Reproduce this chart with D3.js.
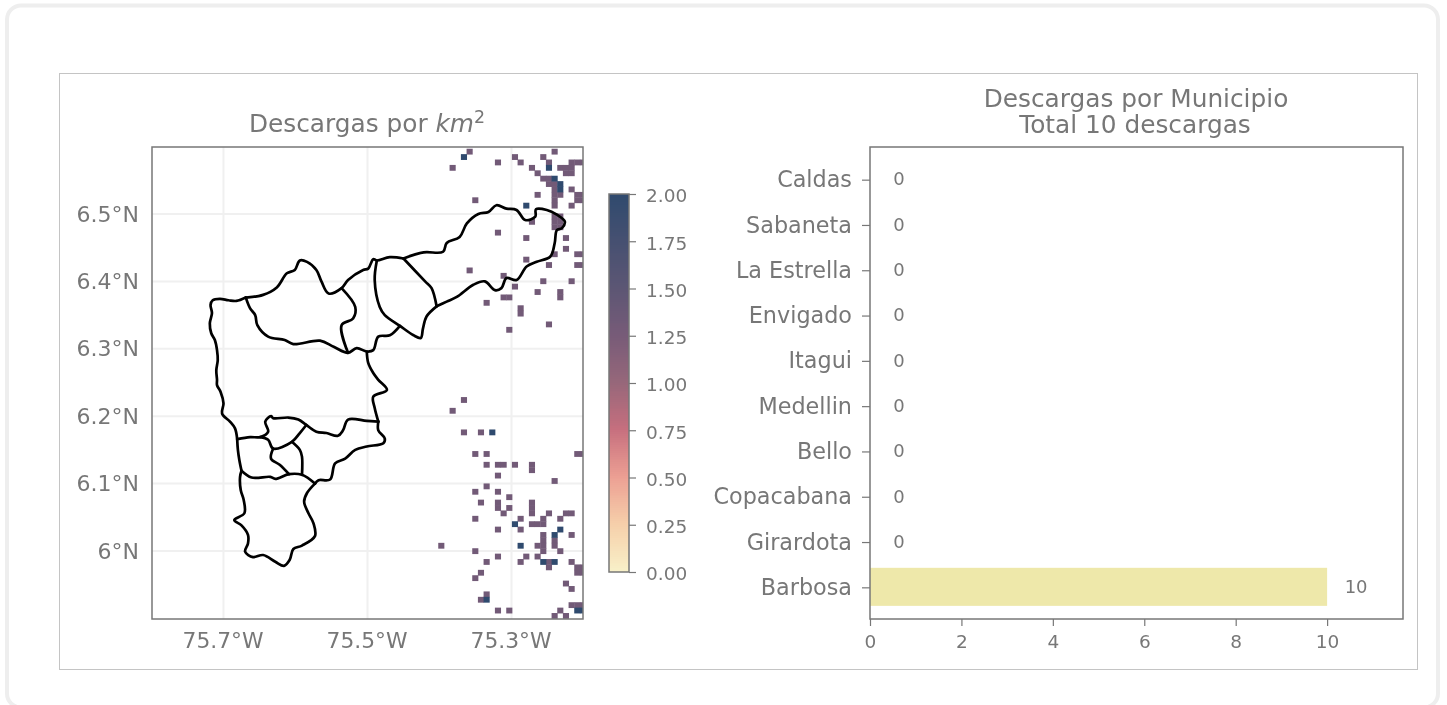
<!doctype html>
<html lang="en">
<head>
<meta charset="utf-8">
<title>Descargas</title>
<script src="https://cdn.jsdelivr.net/npm/d3@7"></script>
<style>
  html, body { margin: 0; background: #fff; }
  svg { display: block; font-family: "DejaVu Sans", sans-serif; filter: blur(0.4px); }
  .axis path, .axis line { stroke: #777; }
  .axis text { fill: #777; font-family: "DejaVu Sans", sans-serif; }
  .title { fill: #777; font-size: 24.8px; text-anchor: middle; }
</style>
</head>
<body>
<div id="chart"></div>
<script>
// municipios, top to bottom
var municipios = ['Caldas', 'Sabaneta', 'La Estrella', 'Envigado', 'Itagui', 'Medellin', 'Bello', 'Copacabana', 'Girardota', 'Barbosa'];
var descargas = [0, 0, 0, 0, 0, 0, 0, 0, 0, 10];
var barTicks = [0, 2, 4, 6, 8, 10];

var lonTicks = [-75.7, -75.5, -75.3];
var latTicks = [6, 6.1, 6.2, 6.3, 6.4, 6.5];
var colorTicks = [0, 0.25, 0.5, 0.75, 1, 1.25, 1.5, 1.75, 2];

// raster of discharges: [row, [columns]] on a grid of about 0.008 degrees
var gridLon0 = -75.3975, gridLat0 = 6.5925, gridDLon = 0.00787, gridDLat = 0.00801;
var densidadUna = 1.3, densidadDos = 2.6;
var celdasUna = [
  [0, [5, 20]], [1, [13, 18]], [2, [10, 14, 19, 23, 24, 25]], [3, [2, 16, 21, 22, 23]], [4, [17, 22, 23]],
  [5, [18, 19]], [6, [19, 20]], [7, [20, 23]], [8, [17, 20, 21, 24, 25]], [9, [6, 20, 24, 25]], [10, [20, 23]],
  [12, [20, 21]], [13, [16, 20, 21]], [14, [20, 21]], [15, [10]], [16, [15, 22]], [18, [22]], [19, [20, 24, 25]],
  [20, [15]], [21, [19, 24, 25]], [22, [5]], [23, [11]], [24, [18, 23]], [25, [13]], [26, [17, 21]],
  [27, [11, 12, 21]], [28, [8]], [29, [14]], [30, [14]], [32, [19]], [33, [12]],
  [46, [4]], [48, [2]], [52, [4, 7]], [56, [6, 8, 24, 25]], [58, [8, 10, 11, 13, 16]], [59, [16]], [60, [10]],
  [61, [20]], [62, [8]], [63, [6, 10]], [64, [12]], [65, [7, 10, 16]], [66, [10, 12, 16]], [67, [11, 16, 19, 22, 23]],
  [68, [6, 14, 18, 21]], [69, [16, 17, 18]], [70, [10, 14]], [71, [18, 23]], [72, [18, 20]], [73, [0, 17, 18, 20]],
  [74, [6, 18, 21]], [75, [10, 15, 17]], [76, [8, 14, 19, 23]], [77, [19, 24, 25]], [78, [7, 24, 25]], [79, [6]],
  [80, [22]], [81, [23]], [82, [8]], [83, [7]], [84, [23, 24, 25]], [85, [10, 12, 21]], [86, [20, 22]]
];
var celdasDos = [
  [1, [4]], [3, [19]], [5, [20]], [6, [21]], [7, [21]], [10, [15]], [52, [9]], [69, [13]], [70, [21]],
  [71, [20]], [73, [14]], [76, [18, 20]], [83, [8]], [85, [24, 25]]
];

// municipal boundaries, [lon, lat]
var limites = [
  // west side, north junction down to the south one
  [[-75.669,6.376],[-75.682,6.371],[-75.693,6.372],[-75.705,6.374],[-75.715,6.372],[-75.718,6.365],[-75.716,6.353],[-75.719,6.338],[-75.717,6.323],[-75.712,6.313],[-75.709,6.298],[-75.708,6.283],[-75.710,6.268],[-75.709,6.254],[-75.709,6.246],[-75.704,6.236],[-75.700,6.219],[-75.702,6.204],[-75.691,6.192],[-75.684,6.182],[-75.681,6.166]],
  [[-75.681,6.166],[-75.680,6.150],[-75.678,6.135],[-75.675,6.119]],
  // southern municipio
  [[-75.675,6.119],[-75.677,6.110],[-75.676,6.090],[-75.672,6.076],[-75.671,6.056],[-75.685,6.046],[-75.675,6.038],[-75.666,6.024],[-75.666,6.011],[-75.670,5.999],[-75.659,5.991],[-75.645,5.994],[-75.628,5.984],[-75.616,5.978],[-75.608,5.987],[-75.603,6.003],[-75.591,6.008],[-75.573,6.022],[-75.575,6.041],[-75.582,6.056],[-75.588,6.073],[-75.584,6.086],[-75.573,6.100]],
  [[-75.675,6.119],[-75.661,6.109],[-75.635,6.110],[-75.628,6.107],[-75.609,6.114],[-75.591,6.113],[-75.573,6.100]],
  [[-75.573,6.100],[-75.568,6.105],[-75.552,6.106],[-75.545,6.130],[-75.531,6.137],[-75.517,6.150],[-75.501,6.155],[-75.478,6.160],[-75.476,6.167],[-75.485,6.179],[-75.485,6.192]],
  [[-75.485,6.192],[-75.501,6.193],[-75.527,6.195],[-75.534,6.179],[-75.541,6.171],[-75.557,6.175],[-75.571,6.177],[-75.585,6.187],[-75.596,6.195],[-75.610,6.198],[-75.631,6.197],[-75.634,6.200],[-75.642,6.192],[-75.638,6.177],[-75.649,6.169],[-75.663,6.169],[-75.681,6.166]],
  [[-75.585,6.187],[-75.594,6.175],[-75.605,6.162],[-75.631,6.152],[-75.638,6.165],[-75.649,6.169]],
  [[-75.631,6.152],[-75.634,6.137],[-75.622,6.128],[-75.609,6.114]],
  [[-75.605,6.162],[-75.594,6.150],[-75.591,6.140],[-75.591,6.113]],
  // east side of Medellin going north
  [[-75.485,6.192],[-75.490,6.212],[-75.492,6.229],[-75.473,6.239],[-75.485,6.254],[-75.492,6.264],[-75.499,6.279],[-75.501,6.296]],
  // northern arc
  [[-75.669,6.376],[-75.645,6.380],[-75.626,6.391],[-75.612,6.412],[-75.601,6.417],[-75.594,6.431],[-75.584,6.429],[-75.571,6.417],[-75.564,6.400],[-75.554,6.382],[-75.536,6.390],[-75.527,6.402],[-75.506,6.417],[-75.499,6.419],[-75.492,6.433],[-75.487,6.431],[-75.469,6.436],[-75.450,6.434]],
  // Barbosa
  [[-75.450,6.434],[-75.422,6.443],[-75.395,6.444],[-75.390,6.457],[-75.372,6.466],[-75.362,6.486],[-75.346,6.500],[-75.332,6.503],[-75.321,6.513],[-75.307,6.508],[-75.293,6.506],[-75.281,6.491],[-75.267,6.496],[-75.266,6.507],[-75.251,6.506],[-75.237,6.499],[-75.226,6.489],[-75.230,6.479],[-75.237,6.476],[-75.240,6.457],[-75.246,6.437],[-75.265,6.429],[-75.279,6.422],[-75.293,6.402],[-75.307,6.405],[-75.314,6.390],[-75.323,6.387],[-75.337,6.400],[-75.353,6.395],[-75.376,6.377],[-75.390,6.370],[-75.404,6.363]],
  [[-75.404,6.363],[-75.411,6.390],[-75.420,6.400],[-75.450,6.434]],
  [[-75.487,6.431],[-75.490,6.402],[-75.483,6.362],[-75.476,6.350],[-75.455,6.334],[-75.436,6.320],[-75.426,6.316],[-75.423,6.330],[-75.418,6.348],[-75.404,6.363]],
  // south edge of Bello and Copacabana
  [[-75.669,6.376],[-75.663,6.360],[-75.656,6.350],[-75.653,6.335],[-75.638,6.318],[-75.615,6.313],[-75.603,6.307],[-75.566,6.312],[-75.547,6.303],[-75.527,6.294],[-75.515,6.301],[-75.501,6.296],[-75.492,6.298],[-75.485,6.318],[-75.469,6.320],[-75.455,6.334]],
  [[-75.536,6.390],[-75.517,6.362],[-75.520,6.345],[-75.536,6.335],[-75.527,6.294]]
];

var width = 1447, height = 705;

var svg = d3.select('#chart').append('svg')
    .attr('width', width)
    .attr('height', height);

// card and figure frame
svg.append('rect').attr('x', 7).attr('y', 5.5).attr('width', 1431).attr('height', 702)
    .attr('rx', 14).attr('fill', '#fff').attr('stroke', '#eeeeee').attr('stroke-width', 4);
svg.append('rect').attr('x', 59.5).attr('y', 73.5).attr('width', 1358).attr('height', 596)
    .attr('fill', '#fff').attr('stroke', '#c4c4c4').attr('stroke-width', 1);

// ---- map
var x = d3.scaleLinear().domain([-75.7993, -75.2007]).range([152, 583]);
var y = d3.scaleLinear().domain([5.8991, 6.5994]).range([619, 147]);

var color = d3.scaleLinear()
    .domain([0, 0.25, 0.5, 0.75, 1, 1.25, 1.5, 2])
    .range(['#f8f0c8', '#f6cfaa', '#ec9f93', '#c66f7e', '#96677a', '#775b78', '#5c5674', '#2f4a6e'])
    .clamp(true);

svg.append('clipPath').attr('id', 'mapclip').append('rect')
    .attr('x', 152).attr('y', 147).attr('width', 431).attr('height', 472);

var map = svg.append('g').attr('clip-path', 'url(#mapclip)');

map.selectAll('.glon').data(lonTicks).enter().append('line')
    .attr('x1', function(d) { return x(d); }).attr('x2', function(d) { return x(d); })
    .attr('y1', 147).attr('y2', 619)
    .attr('stroke', '#f0f0f0').attr('stroke-width', 2);
map.selectAll('.glat').data(latTicks).enter().append('line')
    .attr('y1', function(d) { return y(d); }).attr('y2', function(d) { return y(d); })
    .attr('x1', 152).attr('x2', 583)
    .attr('stroke', '#f0f0f0').attr('stroke-width', 2);

function expand(rows, value) {
  var out = [];
  rows.forEach(function(r) {
    r[1].forEach(function(c) {
      out.push({lon: gridLon0 + c * gridDLon, lat: gridLat0 - r[0] * gridDLat, value: value});
    });
  });
  return out;
}
var celdas = expand(celdasUna, densidadUna).concat(expand(celdasDos, densidadDos));

// cells are drawn a touch wider than the grid so neighbours join up
map.selectAll('.cell').data(celdas).enter().append('rect')
    .attr('x', function(d) { return x(d.lon - gridDLon * 0.54); })
    .attr('y', function(d) { return y(d.lat + gridDLat * 0.54); })
    .attr('width', x(gridDLon * 1.08) - x(0))
    .attr('height', y(0) - y(gridDLat * 1.08))
    .attr('fill', function(d) { return color(d.value); });

// the outlines wiggle, so smooth between the traced vertices
var line = d3.line()
    .curve(d3.curveCatmullRom.alpha(0.5))
    .x(function(d) { return x(d[0]); })
    .y(function(d) { return y(d[1]); });

map.selectAll('.limite').data(limites).enter().append('path')
    .attr('d', line)
    .attr('fill', 'none')
    .attr('stroke', '#000')
    .attr('stroke-width', 2.7)
    .attr('stroke-linejoin', 'round')
    .attr('stroke-linecap', 'round');

svg.append('rect').attr('x', 152).attr('y', 147).attr('width', 431).attr('height', 472)
    .attr('fill', 'none').attr('stroke', '#777').attr('stroke-width', 1.5);

var lonAxis = svg.append('g').attr('class', 'axis').attr('transform', 'translate(-1,619)')
    .call(d3.axisBottom(x).tickValues(lonTicks).tickSize(0).tickPadding(14)
      .tickFormat(function(d) { return Math.abs(d).toFixed(1) + '°W'; }));
lonAxis.select('.domain').remove();
lonAxis.selectAll('text').style('font-size', '21.8px');

var latAxis = svg.append('g').attr('class', 'axis').attr('transform', 'translate(152,0)')
    .call(d3.axisLeft(y).tickValues(latTicks).tickSize(0).tickPadding(13)
      .tickFormat(function(d) { return (+d.toFixed(1)) + '°N'; }));
latAxis.select('.domain').remove();
latAxis.selectAll('text').style('font-size', '22px');

var t1 = svg.append('text').attr('class', 'title').attr('x', 367).attr('y', 132);
t1.append('tspan').text('Descargas por ');
t1.append('tspan').attr('font-style', 'italic').text('km');
t1.append('tspan').attr('dy', -9).style('font-size', '17.4px').text('2');

// ---- colorbar
var cy = d3.scaleLinear().domain([0, 2]).range([572, 194]);
var steps = d3.range(0, 2, 0.01);
svg.selectAll('.cb').data(steps).enter().append('rect')
    .attr('x', 609).attr('width', 20)
    .attr('y', function(d) { return cy(d + 0.01); })
    .attr('height', cy(0) - cy(0.01))
    .attr('shape-rendering', 'crispEdges')
    .attr('fill', function(d) { return color(d); });
svg.append('rect').attr('x', 609).attr('y', 194).attr('width', 20).attr('height', 378)
    .attr('fill', 'none').attr('stroke', '#777').attr('stroke-width', 1.5);
var cbAxis = svg.append('g').attr('class', 'axis').attr('transform', 'translate(629,0)')
    .call(d3.axisRight(cy).tickValues(colorTicks).tickSize(7).tickPadding(10)
      .tickFormat(d3.format('.2f')));
cbAxis.select('.domain').remove();
cbAxis.selectAll('line').attr('stroke-width', 1.2);
cbAxis.selectAll('text').style('font-size', '18.5px').attr('dy', '0.42em');

// ---- bars
var bx = d3.scaleLinear().domain([0, 11.66]).range([870, 1403]);
var by = d3.scaleBand().domain(municipios).range([147, 619]).paddingInner(0.16).paddingOuter(0.29);

svg.selectAll('.bar').data(municipios).enter().append('rect')
    .attr('x', bx(0))
    .attr('y', function(d) { return by(d); })
    .attr('width', function(d, i) { return bx(descargas[i]) - bx(0); })
    .attr('height', by.bandwidth())
    .attr('fill', '#eee8aa');

svg.selectAll('.val').data(municipios).enter().append('text')
    .attr('x', function(d, i) { return bx(descargas[i]) + 29; })
    .attr('y', function(d) { return by(d) + by.bandwidth() / 2; })
    .attr('dy', '0.35em')
    .attr('text-anchor', 'middle')
    .attr('fill', '#777')
    .style('font-size', '18px')
    .text(function(d, i) { return descargas[i]; });

svg.append('rect').attr('x', 870).attr('y', 147).attr('width', 533).attr('height', 472)
    .attr('fill', 'none').attr('stroke', '#777').attr('stroke-width', 1.5);

var xAxis = svg.append('g').attr('class', 'axis').attr('transform', 'translate(0,619)')
    .call(d3.axisBottom(bx).tickValues(barTicks).tickSize(7).tickPadding(9));
xAxis.select('.domain').remove();
xAxis.selectAll('line').attr('stroke-width', 1.2);
xAxis.selectAll('text').style('font-size', '18.5px');

var yAxis = svg.append('g').attr('class', 'axis').attr('transform', 'translate(870,1)')
    .call(d3.axisLeft(by).tickSize(8).tickPadding(10));
yAxis.select('.domain').remove();
yAxis.selectAll('line').attr('stroke-width', 1.2);
yAxis.selectAll('text').style('font-size', '22.3px');

// two line title, one text element
var t2 = svg.append('text').attr('class', 'title').attr('y', 107);
t2.append('tspan').attr('x', 1136).text('Descargas por Municipio');
t2.append('tspan').attr('x', 1135).attr('dy', 26).text('Total 10 descargas');
</script>
</body>
</html>
